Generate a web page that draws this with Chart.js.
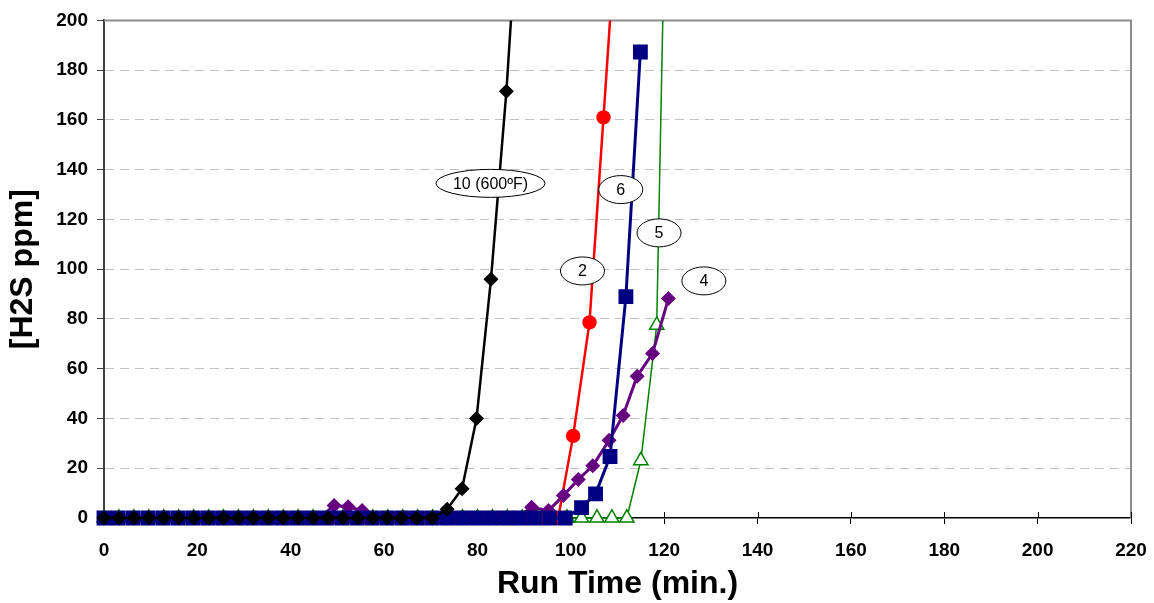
<!DOCTYPE html>
<html>
<head>
<meta charset="utf-8">
<script src="https://cdn.jsdelivr.net/npm/chart.js@4/dist/chart.umd.min.js"></script>
<style>
  body { margin: 0; background: #fff; }
  canvas { display: block; }
</style>
</head>
<body>
<canvas id="grafico" width="1154" height="603" style="width:1154px;height:603px"></canvas>
<script>
// ===================== DADOS =====================
// ensaio 10 (600ºF)
const ensaio10X = [0, 3.2, 6.4, 9.6, 12.8, 16, 19.2, 22.4, 25.6, 28.8, 32, 35.2, 38.4, 41.6, 44.8, 48, 51.2, 54.4, 57.6, 60.7, 63.7, 67, 70.3, 73.5, 76.7, 79.8, 82.9, 86.2, 89.4];
const ensaio10Y = [0, 0, 0, 0, 0, 0, 0, 0, 0, 0, 0, 0, 0, 0, 0, 0, 0, 0, 0, 0, 0, 0, 0, 3.5, 11.8, 40, 96, 171.5, 265];

// ensaio 6
const ensaio6X = [0, 3, 6.2, 9.4, 12.6, 15.8, 19, 22.2, 25.4, 28.6, 31.8, 35, 38.2, 41.4, 44.6, 47.8, 51, 54.2, 57.4, 60.6, 63.8, 67, 70.2, 73.4, 76.6, 79.8, 83, 86.2, 89.2, 92.3, 95.5, 98.8, 102.3, 105.3, 108.4, 111.8, 114.9];
const ensaio6Y = [0, 0, 0, 0, 0, 0, 0, 0, 0, 0, 0, 0, 0, 0, 0, 0, 0, 0, 0, 0, 0, 0, 0, 0, 0, 0, 0, 0, 0, 0, 0, 0, 4.2, 9.7, 24.7, 89, 187.3];

// ensaio 4
const ensaio4X = [0, 3.1, 6.2, 9.2, 12.3, 15.4, 18.5, 21.6, 24.6, 27.7, 30.8, 33.9, 37, 40, 43.1, 46.2, 49.3, 52.3, 55.3, 58.4, 61.4, 64.4, 67.4, 70.4, 73.4, 76.4, 79.4, 82.4, 85.4, 88.4, 91.6, 95.2, 98.4, 101.6, 104.7, 108.2, 111.2, 114.2, 117.5, 120.9];
const ensaio4Y = [0, 0, 0, 0, 0, 0, 0, 0, 0, 0, 0, 0, 0, 0, 0, 0, 5, 4.5, 3, 0, 0, 0, 0, 0, 0, 0, 0, 0, 0, 0, 4.3, 3, 9, 15.5, 21, 31.2, 41.2, 57, 66.1, 88.2];

// ensaio 2
const ensaio2X = [0, 3.3, 6.5, 9.8, 13, 16.3, 19.5, 22.7, 26, 29.2, 32.4, 35.7, 38.9, 42.1, 45.4, 48.6, 51.8, 55.1, 58.3, 61.5, 64.8, 68, 71.2, 74.5, 77.7, 80.9, 84.2, 87.4, 90.6, 93.9, 97.3, 100.5, 104, 107, 110.2];
const ensaio2Y = [0, 0, 0, 0, 0, 0, 0, 0, 0, 0, 0, 0, 0, 0, 0, 0, 0, 0, 0, 0, 0, 0, 0, 0, 0, 0, 0, 0, 0, 0, 0, 33, 78.6, 161, 250];

// ensaio 5
const ensaio5X = [0, 3.2, 6.4, 9.6, 12.8, 16, 19.2, 22.4, 25.6, 28.8, 32, 35.2, 38.4, 41.6, 44.8, 48, 51.2, 54.4, 57.6, 60.8, 64, 67.2, 70.4, 73.6, 76.8, 80, 83.2, 86.4, 89.6, 92.8, 96, 99.2, 102.3, 105.6, 108.8, 112, 115, 118.4, 121.5];
const ensaio5Y = [0, 0, 0, 0, 0, 0, 0, 0, 0, 0, 0, 0, 0, 0, 0, 0, 0, 0, 0, 0, 0, 0, 0, 0, 0, 0, 0, 0, 0, 0, 0, 0, 0, 0, 0, 0, 23.1, 77.5, 370];

// rótulos (texto e ponto de ancoragem em unidades do gráfico)
const rotulosTexto = ["10 (600ºF)", "6", "5", "2", "4"];
const rotulosX = [82.8, 110.7, 118.9, 102.5, 128.5];
const rotulosY = [134.5, 132, 114.6, 99.3, 95.3];

const ticksX = { min: 0, max: 220, passo: 20 };
const ticksY = { min: 0, max: 200, passo: 20 };

const FONTE = '"Liberation Sans", Arial, sans-serif';

function pontos(xs, ys) {
    return xs.map((x, i) => ({ x: x, y: ys[i] }));
}

// ===================== PLUGINS =====================
const moldura = {
    id: "moldura",
    beforeDatasetsDraw(chart) {
        const { ctx, chartArea: a } = chart;
        ctx.save();
        ctx.strokeStyle = "#8c8c8c";
        ctx.lineWidth = 2;
        ctx.beginPath();
        ctx.moveTo(a.left, a.top);
        ctx.lineTo(a.right, a.top);
        ctx.lineTo(a.right, a.bottom);
        ctx.stroke();
        // marcas do eixo x acima da linha
        const xs = chart.scales.x;
        ctx.strokeStyle = "#000";
        ctx.lineWidth = 1;
        ctx.beginPath();
        xs.ticks.forEach(t => {
            const p = Math.round(xs.getPixelForValue(t.value)) + 0.5;
            ctx.moveTo(p, a.bottom - 6);
            ctx.lineTo(p, a.bottom);
        });
        ctx.stroke();
        ctx.restore();
    }
};

const rotulos = {
    id: "rotulos",
    afterDatasetsDraw(chart) {
        const { ctx } = chart;
        const sx = chart.scales.x, sy = chart.scales.y;
        ctx.save();
        ctx.font = "16px " + FONTE;
        ctx.textAlign = "center";
        ctx.textBaseline = "middle";
        rotulosTexto.forEach((txt, i) => {
            const cx = sx.getPixelForValue(rotulosX[i]);
            const cy = sy.getPixelForValue(rotulosY[i]);
            const rx = txt.length > 2 ? 54.5 : 22;
            const ry = 14;
            ctx.beginPath();
            ctx.ellipse(cx, cy, rx, ry, 0, 0, Math.PI * 2);
            ctx.fillStyle = "#fff";
            ctx.fill();
            ctx.lineWidth = 1;
            ctx.strokeStyle = "#000";
            ctx.stroke();
            ctx.fillStyle = "#000";
            ctx.fillText(txt, cx, cy + 1);
        });
        ctx.restore();
    }
};

// ===================== GRÁFICO =====================
const recorte = { left: 12, top: 0, right: 0, bottom: 12 };

new Chart(document.getElementById("grafico").getContext("2d"), {
    type: "line",
    data: {
        datasets: [
            {
                label: "10 (600ºF)",
                data: pontos(ensaio10X, ensaio10Y),
                borderColor: "#000000",
                backgroundColor: "#000000",
                borderWidth: 2.5,
                pointStyle: "rectRot",
                pointRadius: 7.5,
                pointBorderWidth: 0,
                clip: recorte
            },
            {
                label: "6",
                data: pontos(ensaio6X, ensaio6Y),
                borderColor: "#000080",
                backgroundColor: "#000080",
                borderWidth: 3,
                pointStyle: "rect",
                pointRadius: 10.5,
                pointBorderWidth: 0,
                clip: recorte
            },
            {
                label: "4",
                data: pontos(ensaio4X, ensaio4Y),
                borderColor: "#660080",
                backgroundColor: "#660080",
                borderWidth: 3,
                pointStyle: "rectRot",
                pointRadius: 7.5,
                pointBorderWidth: 0,
                clip: recorte
            },
            {
                label: "2",
                data: pontos(ensaio2X, ensaio2Y),
                borderColor: "#ff0000",
                backgroundColor: "#ff0000",
                borderWidth: 2.5,
                pointStyle: "circle",
                pointRadius: 7.2,
                pointBorderWidth: 0,
                clip: recorte
            },
            {
                label: "5",
                data: pontos(ensaio5X, ensaio5Y),
                borderColor: "#008000",
                backgroundColor: "#ffffff",
                borderWidth: 1.5,
                pointStyle: "triangle",
                pointRadius: 8.2,
                pointBorderWidth: 1.5,
                pointBorderColor: "#008000",
                pointBackgroundColor: "#ffffff",
                clip: recorte
            }
        ]
    },
    options: {
        responsive: false,
        animation: false,
        layout: { padding: { top: 20, right: 23, left: 0, bottom: 0 } },
        plugins: {
            legend: { display: false },
            tooltip: { enabled: false }
        },
        elements: { line: { tension: 0 } },
        scales: {
            x: {
                type: "linear",
                min: ticksX.min,
                max: ticksX.max,
                afterFit: s => {
                    s.height = 85;
                    s.paddingLeft = 0;
                    s.paddingRight = 0;
                },
                ticks: {
                    stepSize: ticksX.passo,
                    color: "#000",
                    padding: 15,
                    font: { family: FONTE, size: 19, weight: "bold" }
                },
                grid: {
                    drawOnChartArea: false,
                    tickLength: 6,
                    tickColor: "#000"
                },
                border: { color: "#000", width: 1.5 },
                title: {
                    display: true,
                    text: "Run Time (min.)",
                    color: "#000",
                    padding: { top: 0, bottom: 0 },
                    font: { family: FONTE, size: 32, weight: "bold" }
                }
            },
            y: {
                min: ticksY.min,
                max: ticksY.max,
                afterFit: s => { s.width = 104; },
                ticks: {
                    stepSize: ticksY.passo,
                    color: "#000",
                    padding: 9,
                    font: { family: FONTE, size: 19, weight: "bold" }
                },
                grid: {
                    color: c => (c.tick && (c.tick.value === 0 || c.tick.value === 200)) ? "rgba(0,0,0,0)" : "#c0c0c0",
                    lineWidth: 1,
                    tickLength: 7,
                    tickColor: "#404040"
                },
                border: { color: "#404040", width: 2, dash: [9, 6] },
                title: {
                    display: true,
                    text: "[H2S ppm]",
                    color: "#000",
                    padding: { top: 4, bottom: 0 },
                    font: { family: FONTE, size: 32, weight: "bold" }
                }
            }
        }
    },
    plugins: [moldura, rotulos]
});
</script>
</body>
</html>
